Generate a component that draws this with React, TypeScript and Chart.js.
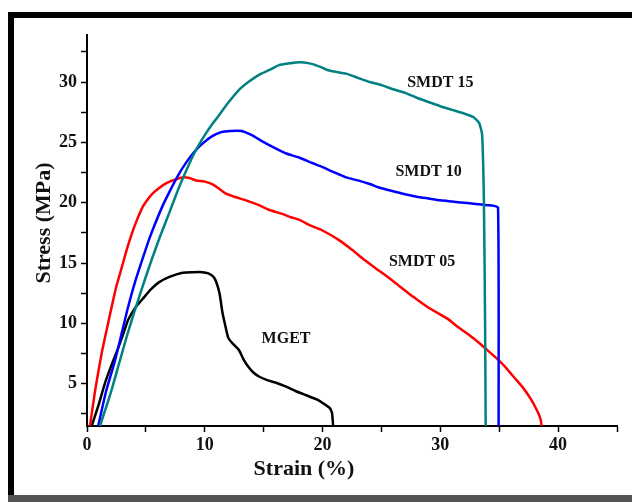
import React, { useEffect, useRef } from 'react';
import { Chart, registerables } from 'chart.js';

Chart.register(...registerables);

// ---- Data ----
const smdt15Strain = [1.1, 2.0, 2.7, 3.4, 4.1, 4.8, 5.5, 6.2, 7.0, 7.7, 8.4, 9.0, 9.5, 10.0, 10.7, 11.1, 12.0, 12.85, 13.7, 14.6, 15.5, 16.3, 17.2, 18.0, 18.9, 19.7, 20.4, 21.1, 22.0, 23.0, 24.0, 25.0, 26.0, 27.0, 28.0, 29.0, 30.0, 31.0, 32.0, 32.8, 33.3, 33.55, 33.7, 33.8, 33.85];
const smdt15Stress = [1.5, 4.2, 6.6, 9.0, 11.2, 13.3, 15.3, 17.2, 19.2, 21.0, 22.6, 23.9, 24.8, 25.6, 26.6, 27.1, 28.3, 29.3, 30.0, 30.6, 31.0, 31.4, 31.55, 31.65, 31.55, 31.3, 31.0, 30.85, 30.7, 30.35, 30.0, 29.75, 29.4, 29.1, 28.7, 28.35, 28.0, 27.7, 27.4, 27.1, 26.6, 25.6, 20.0, 10.0, 1.5];

const smdt10Strain = [0.95, 1.6, 2.4, 3.0, 3.5, 4.1, 4.7, 5.25, 5.8, 6.4, 7.0, 7.7, 8.4, 9.1, 9.8, 10.6, 11.4, 12.2, 13.1, 14.0, 14.85, 15.8, 16.85, 18.0, 19.1, 20.0, 20.8, 22.0, 23.0, 24.0, 25.0, 26.0, 27.0, 28.0, 29.0, 30.0, 31.0, 32.0, 33.0, 34.0, 34.5, 34.9, 34.95];
const smdt10Stress = [1.5, 4.3, 7.0, 9.4, 11.4, 13.5, 15.3, 16.9, 18.3, 19.7, 20.9, 22.2, 23.3, 24.2, 24.9, 25.5, 25.85, 25.95, 25.95, 25.6, 25.1, 24.6, 24.1, 23.75, 23.3, 22.95, 22.6, 22.1, 21.85, 21.55, 21.2, 20.95, 20.7, 20.5, 20.35, 20.2, 20.1, 20.0, 19.9, 19.8, 19.75, 19.6, 1.5];

const smdt05Strain = [0.25, 0.7, 1.26, 1.7, 2.1, 2.5, 2.97, 3.4, 3.83, 4.25, 4.7, 5.1, 5.5, 6.1, 6.7, 7.4, 8.1, 8.7, 9.25, 10.0, 10.7, 11.3, 11.8, 12.5, 13.5, 14.6, 15.5, 16.5, 17.3, 18.0, 19.0, 20.0, 21.4, 22.5, 23.5, 24.9, 26.0, 27.7, 29.0, 30.6, 31.5, 32.5, 33.4, 34.2, 34.9, 35.6, 36.2, 37.0, 37.7, 38.2, 38.5, 38.6];
const smdt05Stress = [1.5, 4.5, 7.6, 9.6, 11.4, 13.1, 14.7, 16.2, 17.5, 18.6, 19.6, 20.2, 20.7, 21.2, 21.6, 21.9, 22.1, 22.05, 21.85, 21.75, 21.5, 21.1, 20.75, 20.5, 20.2, 19.8, 19.4, 19.1, 18.8, 18.6, 18.1, 17.7, 16.9, 16.1, 15.3, 14.3, 13.5, 12.2, 11.3, 10.4, 9.7, 9.0, 8.3, 7.6, 7.0, 6.3, 5.6, 4.7, 3.7, 2.8, 2.1, 1.5];

const mgetStrain = [0.4, 1.0, 1.54, 2.1, 2.7, 3.1, 3.5, 4.1, 4.7, 5.4, 6.1, 7.0, 8.1, 9.0, 9.8, 10.3, 10.7, 10.95, 11.25, 11.5, 11.7, 12.0, 12.4, 12.9, 13.3, 13.7, 14.1, 14.6, 15.3, 16.0, 16.8, 17.7, 18.6, 19.5, 20.1, 20.6, 20.8, 20.9];
const mgetStress = [1.5, 3.3, 5.1, 6.6, 8.1, 9.2, 10.3, 11.3, 12.0, 12.8, 13.4, 13.85, 14.2, 14.25, 14.25, 14.15, 13.9, 13.5, 12.5, 10.9, 10.0, 8.8, 8.3, 7.8, 7.0, 6.4, 5.95, 5.6, 5.3, 5.1, 4.8, 4.4, 4.05, 3.7, 3.35, 3.0, 2.6, 1.5];

const seriesNames = ['SMDT 15', 'SMDT 10', 'SMDT 05', 'MGET'];
const seriesColors = ['#008080', '#0000ff', '#ff0000', '#000000'];
const labelStrain = [30.0, 29.0, 28.45, 16.9];
const labelStress = [29.9, 22.6, 15.1, 8.75];

const xTickValues = [0, 5, 10, 15, 20, 25, 30, 35, 40, 45];
const yTickValues = [2.5, 5, 7.5, 10, 12.5, 15, 17.5, 20, 22.5, 25, 27.5, 30, 32.5];
const xAxisTitle = 'Strain (%)';
const yAxisTitle = 'Stress (MPa)';

const SERIF = "'Times New Roman', 'Liberation Serif', serif";

const toPoints = (xs: number[], ys: number[]) => xs.map((x, i) => ({ x, y: ys[i] }));

export default function App() {
  const canvasRef = useRef<HTMLCanvasElement | null>(null);

  useEffect(() => {
    if (!canvasRef.current) return;
    const seriesX = [smdt15Strain, smdt10Strain, smdt05Strain, mgetStrain];
    const seriesY = [smdt15Stress, smdt10Stress, smdt05Stress, mgetStress];

    const labelsPlugin = {
      id: 'curveLabels',
      afterDatasetsDraw(chart: any) {
        const { ctx, scales } = chart;
        ctx.save();
        ctx.fillStyle = '#111';
        ctx.font = `bold 16px ${SERIF}`;
        ctx.textAlign = 'center';
        ctx.textBaseline = 'middle';
        seriesNames.forEach((name, i) => {
          const px = scales.x.getPixelForValue(labelStrain[i]);
          const py = scales.y.getPixelForValue(labelStress[i]);
          ctx.fillText(name, px, py);
        });
        ctx.restore();
      },
      afterDraw(chart: any) {
        const { ctx } = chart;
        ctx.save();
        ctx.fillStyle = '#111';
        ctx.font = `bold 22px ${SERIF}`;
        ctx.textAlign = 'center';
        ctx.textBaseline = 'middle';
        ctx.fillText(xAxisTitle, 304, 469);
        ctx.translate(44, 223);
        ctx.rotate(-Math.PI / 2);
        ctx.fillText(yAxisTitle, 0, 0);
        ctx.restore();
      },
    };

    const chart = new Chart(canvasRef.current, {
      type: 'scatter',
      data: {
        datasets: seriesNames.map((name, i) => ({
          label: name,
          data: toPoints(seriesX[i], seriesY[i]),
          showLine: true,
          borderColor: seriesColors[i],
          backgroundColor: seriesColors[i],
          borderWidth: 2.5,
          pointRadius: 0,
          pointHoverRadius: 0,
          tension: 0.2,
          fill: false,
        })),
      },
      options: {
        animation: false,
        responsive: false,
        maintainAspectRatio: false,
        events: [],
        layout: { padding: { left: 0, right: 15, top: 35, bottom: 0 } },
        plugins: {
          legend: { display: false },
          tooltip: { enabled: false },
          title: { display: false },
        },
        scales: {
          x: {
            type: 'linear',
            min: 0,
            max: 45,
            afterBuildTicks: (s: any) => {
              s.ticks = xTickValues.map((v) => ({ value: v }));
            },
            afterFit: (s: any) => {
              s.height = 76;
            },
            ticks: {
              autoSkip: false,
              maxRotation: 0,
              padding: 3,
              color: '#111',
              font: { family: SERIF, size: 18, weight: 'bold' },
              callback: (v: any) => (Number(v) % 10 === 0 ? String(v) : ''),
            },
            grid: {
              drawOnChartArea: false,
              drawTicks: true,
              tickLength: 6,
              tickColor: '#000',
              tickWidth: 1.5,
            },
            border: { display: true, color: '#000', width: 2 },
          },
          y: {
            type: 'linear',
            min: 1.5,
            max: 33.9,
            afterBuildTicks: (s: any) => {
              s.ticks = yTickValues.map((v) => ({ value: v }));
            },
            afterFit: (s: any) => {
              s.width = 87;
            },
            ticks: {
              autoSkip: false,
              padding: 4,
              color: '#111',
              font: { family: SERIF, size: 18, weight: 'bold' },
              callback: (v: any) => (Number(v) % 5 === 0 ? String(v) : ''),
            },
            grid: {
              drawOnChartArea: false,
              drawTicks: true,
              tickLength: 6,
              tickColor: '#000',
              tickWidth: 1.5,
            },
            border: { display: true, color: '#000', width: 2 },
          },
        },
      },
      plugins: [labelsPlugin],
    } as any);

    return () => chart.destroy();
  }, []);

  return (
    <div style={{ position: 'fixed', left: 0, top: 0, width: 632, height: 502, background: '#fff', overflow: 'hidden' }}>
      <canvas ref={canvasRef} width={632} height={502} style={{ position: 'absolute', left: 0, top: 0, width: 632, height: 502 }} />
      <div style={{ position: 'absolute', left: 8, top: 12, width: 624, height: 6, background: '#000' }} />
      <div style={{ position: 'absolute', left: 8, top: 12, width: 6, height: 490, background: '#000' }} />
      <div style={{ position: 'absolute', left: 8, top: 495, width: 624, height: 7, background: '#555' }} />
    </div>
  );
}
